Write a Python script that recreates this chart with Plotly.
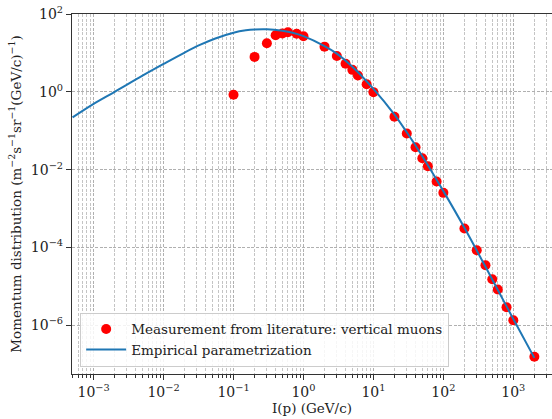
import plotly.graph_objects as go

# Measurements (vertical muons)
momentum = [0.1, 0.2, 0.3, 0.4, 0.5, 0.6, 0.8, 1.0, 2, 3, 4, 5, 6, 8, 10,
            20, 30, 40, 50, 60, 80, 100, 200, 300, 400, 500, 600, 800, 1000, 2000]
flux = [0.84, 7.9, 17.7, 28.5, 31.5, 34, 31, 26.9, 14.5, 8.3, 5.25, 3.67, 2.62, 1.57, 0.98,
        0.228, 0.0848, 0.0377, 0.0196, 0.0122, 0.00494, 0.00253, 3.06e-4, 8.5e-5, 3.48e-5,
        1.52e-5, 8.3e-6, 2.9e-6, 1.34e-6, 1.55e-7]

# Empirical parametrization
curve_p = [5e-4, 1e-3, 2e-3, 5e-3, 1e-2, 2e-2, 3.3e-2, 5.5e-2, 0.1, 0.15, 0.2, 0.3, 0.5, 0.7,
           1, 2, 3, 5, 10, 20, 30, 50, 100, 200, 500, 1000, 2000]
curve_f = [0.22, 0.49, 1.0, 2.6, 5.2, 10.2, 16, 23.5, 33, 38, 40, 40.5, 37, 33,
           27, 15, 9.6, 4.4, 1.19, 0.26, 0.091, 0.0221, 0.0028, 3.2e-4, 1.5e-5, 1.45e-6, 1.45e-7]

x_tickvals = [1e-3, 1e-2, 1e-1, 1e0, 1e1, 1e2, 1e3]
x_ticktext = ["10<sup>−3</sup>", "10<sup>−2</sup>", "10<sup>−1</sup>", "10<sup>0</sup>",
              "10<sup>1</sup>", "10<sup>2</sup>", "10<sup>3</sup>"]
y_tickvals = [1e2, 1e0, 1e-2, 1e-4, 1e-6]
y_ticktext = ["10<sup>2</sup>", "10<sup>0</sup>", "10<sup>−2</sup>", "10<sup>−4</sup>", "10<sup>−6</sup>"]

FONT = "DejaVu Serif"
minor_x = [m * 10.0 ** e for e in range(-4, 4) for m in range(2, 10)]
DASH = "3px,1.6px"

fig = go.Figure()
fig.add_trace(go.Scatter(
    x=momentum, y=flux, mode="markers",
    marker=dict(color="red", size=10, line=dict(width=0)),
    name="Measurement from literature: vertical muons"))
fig.add_trace(go.Scatter(
    x=curve_p, y=curve_f, mode="lines", line_shape="spline",
    line=dict(color="#1f77b4", width=2),
    name="Empirical parametrization"))

fig.update_layout(
    width=552, height=419,
    margin=dict(l=72, r=0, t=14, b=45),
    plot_bgcolor="white", paper_bgcolor="white",
    font=dict(family=FONT, size=14, color="#222"),
    showlegend=True,
    legend=dict(x=0.017, y=0.02, xanchor="left", yanchor="bottom",
                bgcolor="rgba(255,255,255,0.85)", bordercolor="#cccccc", borderwidth=1,
                font=dict(family=FONT, size=13.5), itemwidth=40),
    xaxis=dict(
        type="log", range=[-3.309, 3.553],
        tickvals=x_tickvals, ticktext=x_ticktext,
        tickfont=dict(family=FONT, size=14),
        showline=True, linecolor="#333", linewidth=1.2, mirror=True,
        ticks="outside", ticklen=5, tickcolor="#333",
        showgrid=True, gridcolor="#b0b0b0", griddash=DASH, gridwidth=0.8,
        zeroline=False,
        minor=dict(tickvals=minor_x, ticks="outside", ticklen=3, tickcolor="#333",
                   showgrid=True, gridcolor="#c4c4c4", griddash=DASH, gridwidth=0.7),
        title=dict(text="I(p) (GeV/c)", standoff=4, font=dict(family=FONT, size=13.5)),
    ),
    yaxis=dict(
        type="log", range=[-7.253, 2],
        tickvals=y_tickvals, ticktext=y_ticktext,
        tickfont=dict(family=FONT, size=14),
        showline=True, linecolor="#333", linewidth=1.2, mirror=False,
        ticks="outside", ticklen=5, tickcolor="#333",
        showgrid=True, gridcolor="#b0b0b0", griddash=DASH, gridwidth=0.8,
        zeroline=False,
        title=dict(text="Momentum distribution (m<sup>−2</sup>s<sup>−1</sup>sr<sup>−1</sup>(GeV/c)<sup>−1</sup>)",
                   standoff=6, font=dict(family=FONT, size=13.5)),
    ),
)

fig.write_html("out.html")
